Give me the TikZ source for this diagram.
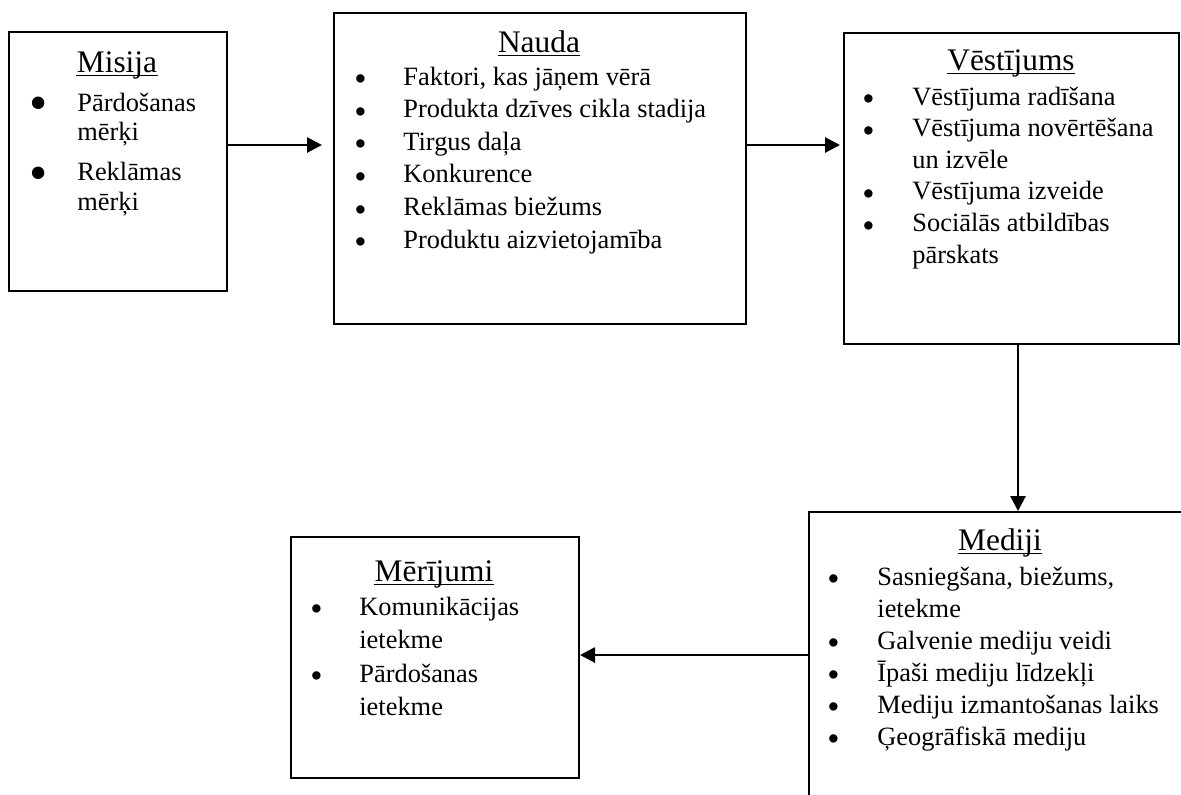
\documentclass[tikz,border=0pt]{standalone}
\usepackage{fontspec}
\setmainfont{Liberation Serif}
\usetikzlibrary{arrows.meta}

\newcommand\headfont{\fontsize{15.7}{18}\selectfont}
\newcommand\blt{\makebox[0pt]{\raisebox{-2.8pt}{\fontsize{17.5}{17.5}\selectfont\textbullet}}}
\newcommand\bltbig{\makebox[0pt]{\raisebox{-4.9pt}{\fontsize{26}{26}\selectfont\textbullet}}}
\newcommand\itemlist[3]{\fontsize{13.2}{#1}\selectfont\begin{tabular}[t]{@{}p{#2}@{}l@{}}#3\end{tabular}}

\tikzset{
  box/.style={draw, line width=1pt, inner sep=0pt, anchor=north west},
  head/.style={inner sep=0pt, anchor=base, font=\headfont},
  list/.style={inner sep=0pt, anchor=base west},
  link/.style={line width=1.4pt, -{Triangle[length=7.5pt,width=7.5pt]}}
}

\begin{document}
\begin{tikzpicture}[x=0.5pt,y=-0.5pt]
\useasboundingbox (0,0) rectangle (1181,794);
\clip (0,0) rectangle (1181,794);

\node[box, minimum width=109pt, minimum height=129.5pt] (misija) at (8,31) {};
\node[box, minimum width=206pt, minimum height=155.5pt] (nauda) at (333,12) {};
\node[box, minimum width=167.5pt, minimum height=155.5pt] (vest) at (843,32) {};
\node[box, minimum width=192pt, minimum height=160pt] (mediji) at (808,511) {};
\node[box, minimum width=144pt, minimum height=120.5pt] (meri) at (290,536) {};

\node[head] (misijaT) at (117,72) {Misija};
\node[head] (naudaT) at (539,52) {Nauda};
\node[head] (vestT) at (1011,70) {Vēstījums};
\node[head] (medijiT) at (1000,550) {Mediji};
\node[head] (meriT) at (434,581) {Mērījumi};
\foreach \t in {misijaT,naudaT,vestT,medijiT,meriT}
  \draw[line width=0.7pt] ([yshift=-1.8pt]\t.base west) -- ([yshift=-1.8pt]\t.base east);

\node[list] (misijaL) at (38,111) {\itemlist{14.25pt}{19.5pt}{%
  \bltbig & Pārdošanas\\ & mērķi\\[5.75pt]
  \bltbig & Reklāmas\\ & mērķi}};
\node[list] (naudaL) at (360,85) {\itemlist{16.3pt}{21.5pt}{%
  \blt & Faktori, kas jāņem vērā\\
  \blt & Produkta dzīves cikla stadija\\
  \blt & Tirgus daļa\\
  \blt & Konkurence\\
  \blt & Reklāmas biežums\\
  \blt & Produktu aizvietojamība}};
\node[list] (vestL) at (868,105) {\itemlist{15.8pt}{22pt}{%
  \blt & Vēstījuma radīšana\\
  \blt & Vēstījuma novērtēšana\\ & un izvēle\\
  \blt & Vēstījuma izveide\\
  \blt & Sociālās atbildības\\ & pārskats}};
\node[list] (medijiL) at (833,585) {\itemlist{16pt}{22pt}{%
  \blt & Sasniegšana, biežums,\\ & ietekme\\
  \blt & Galvenie mediju veidi\\
  \blt & Īpaši mediju līdzekļi\\
  \blt & Mediju izmantošanas laiks\\
  \blt & Ģeogrāfiskā mediju}};
\node[list] (meriL) at (316,615) {\itemlist{16.75pt}{21.5pt}{%
  \blt & Komunikācijas\\ & ietekme\\
  \blt & Pārdošanas\\ & ietekme}};

\coordinate (tip1) at (322,145);
\coordinate (row1) at (0,145);
\coordinate (col1) at (1018,0);
\coordinate (row2) at (0,655);
\draw[link] (misija.east |- tip1) -- (tip1);
\draw[link] (nauda.east |- row1) -- ([xshift=-1.5pt]vest.west |- row1);
\draw[link] (vest.south -| col1) -- (mediji.north -| col1);
\draw[link] (mediji.west |- row2) -- (meri.east |- row2);
\end{tikzpicture}
\end{document}
